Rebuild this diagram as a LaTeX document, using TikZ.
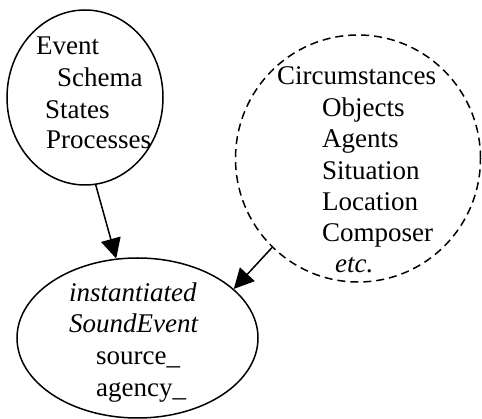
\documentclass[tikz,border=0pt]{standalone}
\usepackage{fontspec}
\setmainfont{Liberation Serif}
\usetikzlibrary{shapes.geometric,arrows.meta}
\begin{document}
\begin{tikzpicture}[x=1pt,y=-1pt,
  shapeline/.style={draw=black,line width=1.5pt,ellipse,inner sep=0pt},
  dashline/.style={shapeline,dash pattern=on 8pt off 5pt},
  txt/.style={anchor=base west,inner sep=0pt,font=\fontsize{27}{31}\selectfont},
  itxt/.style={txt,font=\fontsize{27}{31}\selectfont\itshape},
  arr/.style={line width=1.5pt,-{Triangle[length=20pt,width=20pt]}}]
\useasboundingbox (0,0) rectangle (482,419);
% shapes
\node[shapeline,minimum width=156pt,minimum height=175pt] (event) at (85,97.5) {};
\node[dashline,minimum width=245pt,minimum height=247pt] (circ) at (358,158.5) {};
\node[shapeline,minimum width=241pt,minimum height=160pt] (sound) at (137.5,338) {};
% texts
\node[txt] (e1) at (36,55) {Event};
\node[txt] (e2) at (57,87) {Schema};
\node[txt] (e3) at (45,119) {States};
\node[txt] (e4) at (46,149) {Processes};
\node[txt] (c1) at (277,85) {Circumstances};
\node[txt] (c2) at (322,117) {Objects};
\node[txt] (c3) at (322,148) {Agents};
\node[txt] (c4) at (322,180) {Situation};
\node[txt] (c5) at (322,211) {Location};
\node[txt] (c6) at (322,242) {Composer};
\node[itxt] (c7) at (335,273) {etc.};
\node[itxt] (s1) at (69,302) {instantiated};
\node[itxt] (s2) at (69,333) {SoundEvent};
\node[txt] (s3) at (96,365) {source\_};
\node[txt] (s4) at (96,397) {agency\_};
% connectors
\draw[arr] (event.-83.6) -- (sound.105);
\draw[arr] (circ.-134) -- (sound.27);
\end{tikzpicture}
\end{document}
